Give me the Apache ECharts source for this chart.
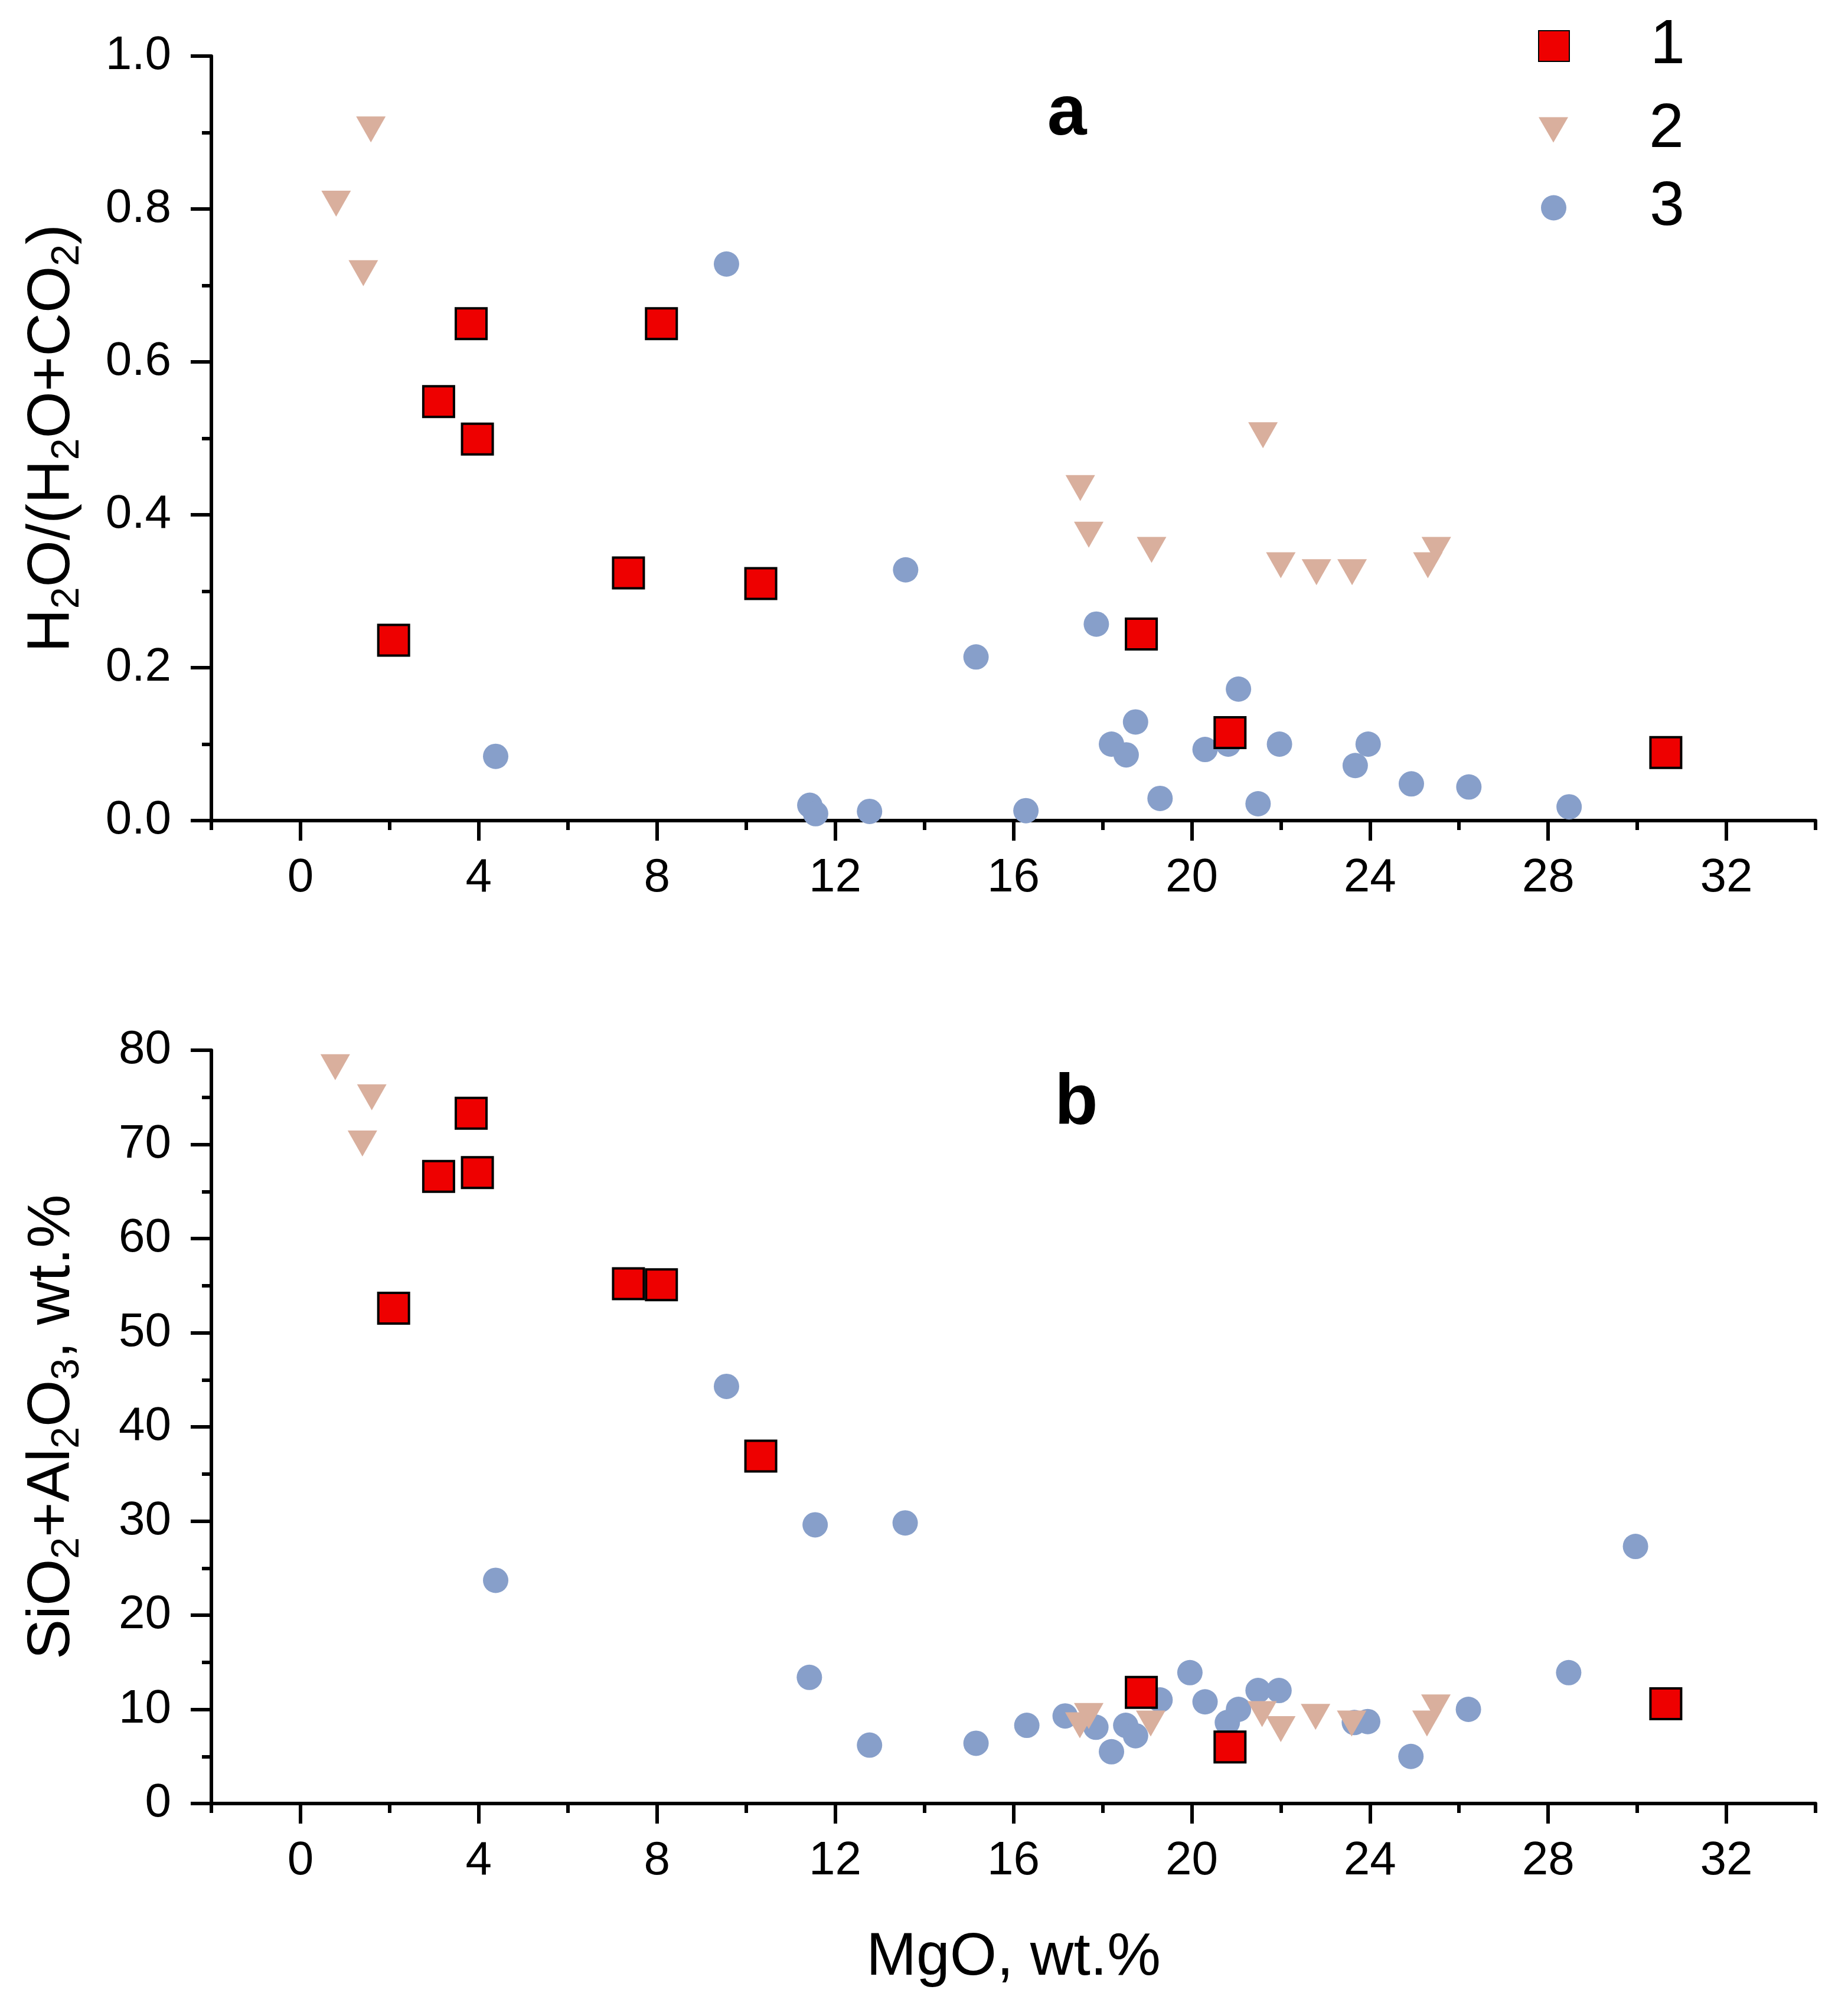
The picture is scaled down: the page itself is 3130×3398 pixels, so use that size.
<!DOCTYPE html>
<html>
<head>
<meta charset="utf-8">
<script src="https://cdn.jsdelivr.net/npm/echarts@6.0.0/dist/echarts.min.js"></script>
<style>
html, body { margin: 0; padding: 0; background: #fff; }
#chart { width: 3130px; height: 3398px; }
</style>
</head>
<body>
<div id="chart"></div>
<script>
// x axis ticks (MgO, wt.%)
const xMajorTicks = [0, 4, 8, 12, 16, 20, 24, 28, 32];
const xMinorTicks = [-2, 2, 6, 10, 14, 18, 22, 26, 30, 34];

// panel a : H2O/(H2O+CO2) vs MgO
const mgoA1 = [2.09, 3.1, 3.83, 3.97, 7.36, 8.1, 10.33, 18.87, 20.86, 30.64];
const ratioA1 = [0.236, 0.548, 0.650, 0.499, 0.324, 0.650, 0.310, 0.244, 0.115, 0.089];
const mgoA2 = [0.8, 1.58, 1.41, 17.5, 17.69, 19.1, 21.6, 22.0, 22.8, 23.6, 25.3, 25.49];
const ratioA2 = [0.807, 0.904, 0.716, 0.435, 0.374, 0.354, 0.504, 0.334, 0.325, 0.325, 0.334, 0.354];
const mgoA3 = [4.38, 9.56, 11.43, 11.56, 12.77, 13.58, 15.16, 16.28, 17.86, 18.2, 18.53, 18.74, 19.29,
  20.3, 20.82, 21.05, 21.49, 21.97, 23.67, 23.96, 24.93, 26.22, 28.47];
const ratioA3 = [0.084, 0.728, 0.020, 0.009, 0.012, 0.328, 0.214, 0.013, 0.257, 0.100, 0.086, 0.129, 0.029,
  0.093, 0.100, 0.172, 0.022, 0.100, 0.072, 0.100, 0.048, 0.044, 0.018];

// panel b : SiO2+Al2O3 vs MgO
const mgoB1 = [2.09, 3.1, 3.83, 3.97, 7.36, 8.1, 10.33, 18.87, 20.86, 30.64];
const siAlB1 = [52.6, 66.6, 73.3, 67.0, 55.2, 55.1, 36.9, 11.8, 6.0, 10.6];
const mgoB2 = [0.78, 1.6, 1.39, 17.49, 17.69, 19.08, 21.58, 22.0, 22.78, 23.59, 25.28, 25.48];
const siAlB2 = [78.2, 75.0, 70.1, 8.3, 9.3, 8.5, 9.5, 7.9, 9.2, 8.5, 8.5, 10.2];
const mgoB3 = [4.38, 9.56, 11.42, 11.55, 12.77, 13.57, 15.16, 16.3, 17.16, 17.85, 18.2, 18.52, 18.74,
  19.29, 19.96, 20.3, 20.8, 21.05, 21.49, 21.96, 23.65, 23.95, 24.92, 26.21, 28.46, 29.96];
const siAlB3 = [23.7, 44.3, 13.4, 29.6, 6.2, 29.8, 6.4, 8.3, 9.3, 8.1, 5.5, 8.3, 7.2,
  11.0, 13.9, 10.8, 8.6, 10.0, 12.0, 12.0, 8.6, 8.7, 5.0, 10.0, 13.9, 27.3];

const FONT = "'Liberation Sans', Arial, sans-serif";
const triPath = 'path://M0,0 L100,0 L50,86 Z';

function pairs(xs, ys) {
  return xs.map((x, i) => [x, ys[i]]);
}

const chart = echarts.init(document.getElementById('chart'));

function xAxes(grid, withName) {
  return [{
    gridIndex: grid, type: 'value', position: 'bottom', min: -2, max: 34, interval: 2,
    axisLine: { onZero: false, lineStyle: { color: '#000', width: 6 } },
    axisTick: { customValues: xMajorTicks, length: 34, lineStyle: { color: '#000', width: 6 } },
    axisLabel: { customValues: xMajorTicks, fontSize: 80, fontFamily: FONT, color: '#000', margin: 58 },
    splitLine: { show: false },
    name: withName ? 'MgO, wt.%' : '',
    nameLocation: 'middle', nameGap: 207,
    nameTextStyle: { fontSize: 102, fontFamily: FONT, color: '#000', lineHeight: 110 }
  }, {
    gridIndex: grid, type: 'value', position: 'bottom', min: -2, max: 34, interval: 2,
    axisLine: { show: false, onZero: false },
    axisTick: { customValues: xMinorTicks, length: 16, lineStyle: { color: '#000', width: 6 } },
    axisLabel: { show: false },
    splitLine: { show: false }
  }];
}

const nameRich = {
  n: { fontSize: 102, fontFamily: FONT, color: '#000', lineHeight: 130 },
  s: { fontSize: 66, fontFamily: FONT, color: '#000', verticalAlign: 'top', padding: [58, 0, 0, 0] }
};

function yAxis(grid, max, interval, name, fmt) {
  return {
    gridIndex: grid, type: 'value', min: 0, max: max, interval: interval,
    axisLine: { onZero: false, lineStyle: { color: '#000', width: 6 } },
    axisTick: { length: 35, lineStyle: { color: '#000', width: 6 } },
    minorTick: { show: true, splitNumber: 2, length: 16, lineStyle: { color: '#000', width: 6 } },
    axisLabel: { fontSize: 80, fontFamily: FONT, color: '#000', margin: 68, formatter: fmt },
    splitLine: { show: false },
    name: name, nameLocation: 'middle', nameGap: 204, nameRotate: 90,
    nameTextStyle: { rich: nameRich }
  };
}

const sty1 = { color: '#EE0000', borderColor: '#000', borderWidth: 4, opacity: 1 };
const sty2 = { color: '#D9AF9D', opacity: 1 };
const sty3 = { color: '#879FCA', opacity: 1 };

function panelSeries(xi, yi, d1, d2, d3) {
  return [
    { name: '3', type: 'scatter', xAxisIndex: xi, yAxisIndex: yi, symbol: 'circle', symbolSize: 43,
      itemStyle: sty3, data: d3, z: 2 },
    { name: '2', type: 'scatter', xAxisIndex: xi, yAxisIndex: yi, symbol: triPath, symbolSize: [50, 44],
      itemStyle: sty2, data: d2, z: 3 },
    { name: '1', type: 'scatter', xAxisIndex: xi, yAxisIndex: yi, symbol: 'rect', symbolSize: 52,
      itemStyle: sty1, data: d1, z: 4 }
  ];
}

function legendItem(name, icon, w, h, left, top, pad) {
  return {
    data: [{ name: name, icon: icon }], orient: 'vertical', left: left, top: top, padding: 0,
    itemWidth: w, itemHeight: h, selectedMode: false,
    textStyle: { fontSize: 106, fontFamily: FONT, color: '#000', lineHeight: 110, padding: [0, 0, 0, pad] }
  };
}

const option = {
  backgroundColor: '#fff',
  animation: false,
  grid: [
    { left: 358, top: 95, width: 2717, height: 1295, outerBoundsMode: 'none' },
    { left: 358, top: 1779, width: 2717, height: 1276, outerBoundsMode: 'none' }
  ],
  xAxis: xAxes(0, false).concat(xAxes(1, true)),
  yAxis: [
    yAxis(0, 1, 0.2, '{n|H}{s|2}{n|O/(H}{s|2}{n|O+CO}{s|2}{n|)}', v => v.toFixed(1)),
    yAxis(1, 80, 10, '{n|SiO}{s|2}{n|+Al}{s|2}{n|O}{s|3}{n|, wt.%}', v => String(v))
  ],
  legend: [
    legendItem('1', 'rect', 52, 52, 2605, 23, 132),
    legendItem('2', triPath, 50, 44, 2606, 165, 132),
    legendItem('3', 'circle', 43, 43, 2610, 297, 136)
  ],
  graphic: [
    { type: 'text', x: 1807, y: 195, style: { text: 'a', font: 'bold 120px ' + FONT, fill: '#000',
      textAlign: 'center', textVerticalAlign: 'middle' } },
    { type: 'text', x: 1823, y: 1871, style: { text: 'b', font: 'bold 120px ' + FONT, fill: '#000',
      textAlign: 'center', textVerticalAlign: 'middle' } }
  ],
  series: panelSeries(0, 0, pairs(mgoA1, ratioA1), pairs(mgoA2, ratioA2), pairs(mgoA3, ratioA3))
    .concat(panelSeries(2, 1, pairs(mgoB1, siAlB1), pairs(mgoB2, siAlB2), pairs(mgoB3, siAlB3)))
};

chart.setOption(option);
</script>
</body>
</html>
